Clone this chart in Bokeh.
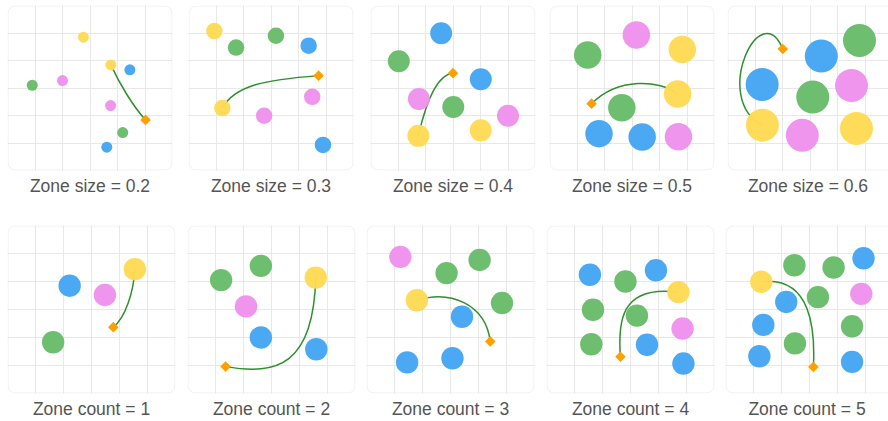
from bokeh.plotting import figure
from bokeh.models import Range1d, FixedTicker, Grid, BoxAnnotation, Title, ColumnDataSource
from bokeh.layouts import row, column
from bokeh.embed import file_html
from bokeh.resources import INLINE

# ---------------- data ----------------
titles = ["Zone size = 0.2", "Zone size = 0.3", "Zone size = 0.4", "Zone size = 0.5", "Zone size = 0.6",
          "Zone count = 1", "Zone count = 2", "Zone count = 3", "Zone count = 4", "Zone count = 5"]
zone_radius = [0.2, 0.3, 0.4, 0.5, 0.6, 0.4, 0.4, 0.4, 0.4, 0.4]

circle_x = [
    [2.76, 3.76, 4.45, 0.90, 2.00, 3.75, 4.19, 3.61],
    [0.94, 1.73, 3.18, 4.37, 1.23, 4.50, 2.75, 4.89],
    [2.57, 1.03, 4.01, 1.76, 3.01, 5.00, 1.74, 4.01],
    [3.16, 1.39, 4.83, 4.66, 2.63, 1.80, 3.37, 4.69],
    [4.80, 3.41, 1.26, 4.51, 3.10, 1.27, 4.69, 2.72],
    [4.55, 2.22, 3.48, 1.63],
    [1.20, 2.62, 4.58, 2.09, 2.62, 4.60],
    [1.21, 2.86, 4.04, 1.80, 4.84, 3.41, 1.45, 3.07],
    [1.55, 2.82, 3.91, 4.71, 1.66, 3.23, 4.86, 1.60, 3.59, 4.89],
    [4.93, 2.46, 3.86, 1.28, 2.17, 3.30, 4.85, 1.35, 4.52, 2.48, 1.21, 4.52],
]
circle_y = [
    [4.85, 3.84, 3.66, 3.10, 3.27, 2.36, 1.38, 0.85],
    [5.07, 4.47, 4.90, 4.54, 2.27, 2.68, 1.99, 0.93],
    [4.99, 3.97, 3.32, 2.60, 2.31, 1.99, 1.26, 1.46],
    [4.93, 4.20, 4.40, 2.78, 2.28, 1.34, 1.22, 1.23],
    [4.73, 4.16, 3.13, 3.09, 2.67, 1.65, 1.53, 1.28],
    [4.44, 3.85, 3.52, 1.83],
    [4.05, 4.56, 4.14, 3.11, 2.00, 1.58],
    [4.88, 4.30, 4.77, 3.33, 3.23, 2.74, 1.11, 1.26],
    [4.24, 4.00, 4.40, 3.62, 2.99, 2.78, 2.32, 1.76, 1.74, 1.07],
    [4.83, 4.58, 4.50, 3.99, 3.27, 3.44, 3.56, 2.45, 2.40, 1.79, 1.33, 1.13],
]
circle_kind = [
    ["Y", "Y", "B", "G", "P", "P", "G", "B"],
    ["Y", "G", "G", "B", "Y", "P", "P", "B"],
    ["B", "G", "B", "P", "G", "P", "Y", "Y"],
    ["P", "G", "Y", "Y", "G", "B", "B", "P"],
    ["G", "B", "B", "P", "G", "Y", "Y", "P"],
    ["Y", "B", "P", "G"],
    ["G", "G", "Y", "P", "B", "B"],
    ["P", "G", "G", "Y", "G", "B", "B", "B"],
    ["B", "G", "B", "Y", "G", "G", "P", "G", "B", "B"],
    ["B", "G", "G", "Y", "B", "G", "P", "B", "G", "G", "B", "B"],
]

# path from a yellow zone to the target (diamond)
path_start_x = [3.76, 1.23, 1.74, 4.66, 1.27, 4.55, 4.58, 1.80, 4.71, 1.28]
path_start_y = [3.84, 2.27, 1.26, 2.78, 1.65, 4.44, 4.14, 3.33, 3.62, 3.99]
path_ctrl0_x = [4.05, 1.70, 2.00, 4.00, -0.60, 4.50, 4.50, 3.00, 2.60, 3.10]
path_ctrl0_y = [3.20, 3.10, 2.40, 3.30, 2.60, 3.60, 1.00, 3.70, 3.90, 4.20]
path_ctrl1_x = [4.55, 2.80, 2.40, 2.50, 1.20, 4.20, 3.20, 4.25, 2.55, 3.20]
path_ctrl1_y = [2.35, 3.30, 3.50, 3.40, 6.40, 2.70, 0.65, 3.20, 2.50, 2.20]
target_x = [5.02, 4.73, 3.00, 1.53, 2.01, 3.78, 1.36, 4.42, 2.64, 3.14]
target_y = [1.84, 3.45, 3.54, 2.43, 4.42, 2.37, 0.96, 1.86, 1.31, 0.95]

grid_ticks = [1, 2, 3, 4, 5]

# ---------------- styles / layout ----------------
COLORS = {"G": "#68bc6a", "B": "#45a6f4", "P": "#ee92ec", "Y": "#ffda55"}
FONT = "Liberation Sans"
TOP_LEFT = [7, 8, 10, 9, 7]
BOT_LEFT = [7, 7, 6, 6, 5]


def make_panel(i, fig_w, fig_h, left, top_b, frame_w, frame_h, box_units):
    unit = frame_h / 6.0
    p = figure(width=fig_w, height=fig_h,
               x_range=Range1d(0, frame_w / unit), y_range=Range1d(0, 6),
               toolbar_location=None, output_backend="svg",
               x_axis_location=None, y_axis_location=None,
               min_border_left=left, min_border_right=fig_w - frame_w - left,
               min_border_top=top_b, min_border_bottom=fig_h - frame_h - top_b,
               outline_line_color=None,
               background_fill_color="white", border_fill_color="white")
    p.center = [r for r in p.center if not isinstance(r, Grid)]
    for dim in (0, 1):
        p.add_layout(Grid(dimension=dim, ticker=FixedTicker(ticks=grid_ticks),
                          grid_line_color="#e8e8e8", grid_line_width=1), "center")
    p.add_layout(BoxAnnotation(left=0.02, right=box_units - 0.02, bottom=0.02, top=5.98,
                               fill_alpha=0, line_color="#cccccc", line_width=1,
                               border_radius=7))

    path_src = ColumnDataSource(dict(
        x0=[path_start_x[i]], y0=[path_start_y[i]],
        cx0=[path_ctrl0_x[i]], cy0=[path_ctrl0_y[i]],
        cx1=[path_ctrl1_x[i]], cy1=[path_ctrl1_y[i]],
        x1=[target_x[i]], y1=[target_y[i]]))
    p.bezier(x0="x0", y0="y0", x1="x1", y1="y1", cx0="cx0", cy0="cy0",
             cx1="cx1", cy1="cy1", source=path_src,
             line_color="#2e8f2e", line_width=1.5)

    csrc = ColumnDataSource(dict(
        x=circle_x[i], y=circle_y[i],
        r=[zone_radius[i]] * len(circle_x[i]),
        color=[COLORS[k] for k in circle_kind[i]]))
    p.circle(x="x", y="y", radius="r", source=csrc, fill_color="color",
             fill_alpha=0.97, line_color=None)

    p.scatter(x=[target_x[i]], y=[target_y[i]], marker="square", angle=0.785398,
              size=7.5, fill_color="#ffa000", line_color=None)

    p.add_layout(Title(text=titles[i], align="center", text_font_size="17.5px",
                       text_font_style="normal", text_color="#555555",
                       text_font=FONT, standoff=6), "below")
    return p


top = []
bottom = []
for k in range(5):
    fw = 180 if k < 4 else 168
    frame = 165 if k < 4 else fw - TOP_LEFT[k]
    top.append(make_panel(k, fw, 220, TOP_LEFT[k], 5, frame, 165, 6 if k < 4 else 6.2))
for k in range(5):
    fw = 180 if k < 4 else 168
    frame = 168 if k < 4 else fw - BOT_LEFT[k]
    bottom.append(make_panel(5 + k, fw, 201, BOT_LEFT[k], 5, frame, 168, 6 if k < 4 else 6.2))

layout = column(row(*top, spacing=0), row(*bottom, spacing=0), spacing=0)

open("out.html", "w").write(file_html(layout, INLINE))
